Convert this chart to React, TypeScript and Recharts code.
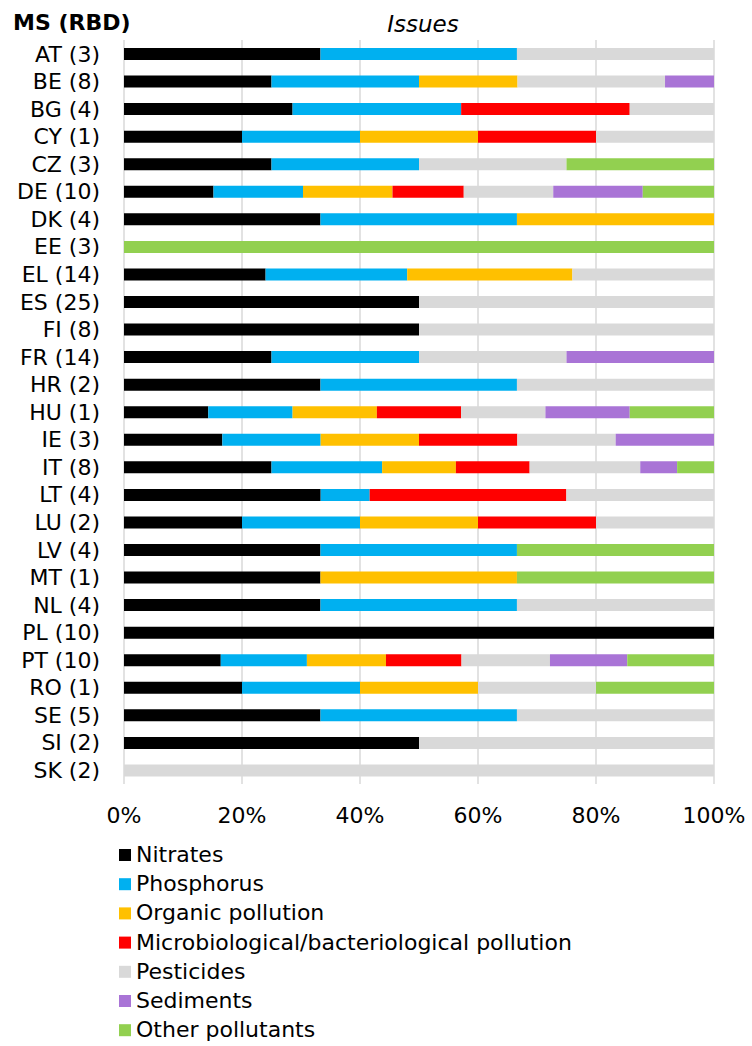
import { Bar, BarChart, CartesianGrid, XAxis, YAxis } from "recharts";

const categories = [
  "AT (3)", "BE (8)", "BG (4)", "CY (1)", "CZ (3)", "DE (10)", "DK (4)",
  "EE (3)", "EL (14)", "ES (25)", "FI (8)", "FR (14)", "HR (2)", "HU (1)",
  "IE (3)", "IT (8)", "LT (4)", "LU (2)", "LV (4)", "MT (1)", "NL (4)",
  "PL (10)", "PT (10)", "RO (1)", "SE (5)", "SI (2)", "SK (2)",
];

// shares in % per category
const nitrates = [33.3, 25, 28.6, 20, 25, 15.2, 33.3, 0, 24, 50, 50, 25, 33.3, 14.3, 16.7, 25, 33.3, 20, 33.3, 33.3, 33.3, 100, 16.4, 20, 33.3, 50, 0];
const phosphorus = [33.3, 25, 28.6, 20, 25, 15.2, 33.3, 0, 24, 0, 0, 25, 33.3, 14.3, 16.7, 18.75, 8.3, 20, 33.3, 0, 33.3, 0, 14.6, 20, 33.3, 0, 0];
const organic = [0, 16.7, 0, 20, 0, 15.2, 33.4, 0, 28, 0, 0, 0, 0, 14.3, 16.7, 12.5, 0, 20, 0, 33.3, 0, 0, 13.4, 20, 0, 0, 0];
const microbio = [0, 0, 28.6, 20, 0, 12.1, 0, 0, 0, 0, 0, 0, 0, 14.3, 16.7, 12.5, 33.3, 20, 0, 0, 0, 0, 12.8, 0, 0, 0, 0];
const pesticides = [33.4, 25, 14.3, 20, 25, 15.2, 0, 0, 24, 50, 50, 25, 33.4, 14.3, 16.7, 18.75, 25, 20, 0, 0, 33.4, 0, 15.0, 20, 33.4, 50, 100];
const sediments = [0, 8.3, 0, 0, 0, 15.2, 0, 0, 0, 0, 0, 25, 0, 14.3, 16.7, 6.25, 0, 0, 0, 0, 0, 0, 13.1, 0, 0, 0, 0];
const other = [0, 0, 0, 0, 25, 12.1, 0, 100, 0, 0, 0, 0, 0, 14.3, 0, 6.25, 0, 0, 33.4, 33.4, 0, 0, 14.7, 20, 0, 0, 0];

const xTicks = [0, 0.2, 0.4, 0.6, 0.8, 1];

const series = [
  { key: "nitrates", name: "Nitrates", color: "#000000", values: nitrates },
  { key: "phosphorus", name: "Phosphorus", color: "#00B0F0", values: phosphorus },
  { key: "organic", name: "Organic pollution", color: "#FFC000", values: organic },
  { key: "microbio", name: "Microbiological/bacteriological pollution", color: "#FF0000", values: microbio },
  { key: "pesticides", name: "Pesticides", color: "#D9D9D9", values: pesticides },
  { key: "sediments", name: "Sediments", color: "#A974D6", values: sediments },
  { key: "other", name: "Other pollutants", color: "#92D050", values: other },
];

const data = categories.map((ms, i) => {
  const row: Record<string, string | number> = { ms };
  series.forEach((s) => {
    row[s.key] = s.values[i];
  });
  return row;
});

const font = "'DejaVu Sans', Verdana, sans-serif";

export default function App() {
  return (
    <div
      style={{
        position: "absolute",
        left: 0,
        top: 0,
        width: 752,
        height: 1046,
        background: "#fff",
        fontFamily: font,
      }}
    >
      <BarChart
        width={752}
        height={1046}
        data={data}
        layout="vertical"
        stackOffset="expand"
        margin={{ top: 40, right: 38, bottom: 232, left: 0 }}
      >
        <CartesianGrid horizontal={false} stroke="#D9D9D9" strokeWidth={1.5} />
        <XAxis
          type="number"
          domain={[0, 1]}
          ticks={xTicks}
          tickFormatter={(v: number) => `${Math.round(v * 100)}%`}
          axisLine={false}
          tickLine={false}
          tickSize={0}
          tickMargin={23}
          height={30}
          tick={{ fill: "#000", fontSize: 22, fontFamily: font }}
        />
        <YAxis
          type="category"
          dataKey="ms"
          width={124}
          axisLine={false}
          tickLine={false}
          tickSize={0}
          tickMargin={24}
          interval={0}
          tick={{ fill: "#000", fontSize: 22, fontFamily: font }}
        />
        {series.map((s) => (
          <Bar
            key={s.key}
            dataKey={s.key}
            name={s.name}
            stackId="a"
            fill={s.color}
            barSize={12}
            isAnimationActive={false}
          />
        ))}
      </BarChart>

      <svg
        width={752}
        height={1046}
        style={{ position: "absolute", left: 0, top: 0, pointerEvents: "none" }}
      >
        <text x={13} y={30} fontSize={22} fontWeight="bold" fontFamily={font} fill="#000">
          MS (RBD)
        </text>
        <text x={423} y={32} fontSize={23} fontStyle="italic" textAnchor="middle" fontFamily={font} fill="#000">
          Issues
        </text>
        {series.map((s, i) => {
          const base = 862 + i * 29.2;
          return (
            <g key={s.key}>
              <rect x={119} y={base - 13} width={12} height={12} fill={s.color} />
              <text x={136} y={base} fontSize={22} fontFamily={font} fill="#000">
                {s.name}
              </text>
            </g>
          );
        })}
      </svg>
    </div>
  );
}
